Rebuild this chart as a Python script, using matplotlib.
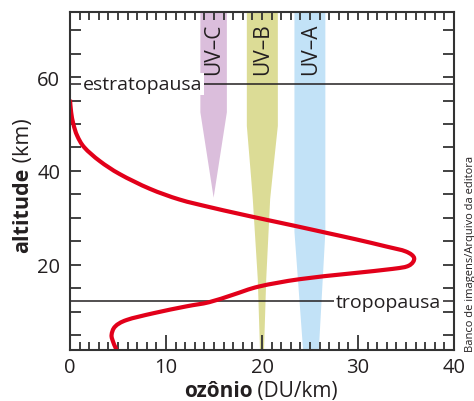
import matplotlib
matplotlib.use("Agg")
import matplotlib.pyplot as plt
from matplotlib.ticker import MultipleLocator
from matplotlib.patches import Polygon, PathPatch
from matplotlib.path import Path
import numpy as np

# Ozone concentration profile (DU/km) against altitude (km)
ozone_du = [0.0, 0.12, 0.35, 0.75, 1.5, 3.1, 5.2, 8.3, 11.4, 14.5, 17.5, 20.4,
            23.6, 26.7, 29.8, 32.9, 35.0, 35.85, 35.3, 33.6, 29.1, 23.9, 19.7,
            17.0, 14.5, 12.1, 8.7, 5.9, 4.7, 4.33, 4.5, 4.7, 4.9]
altitude_km = [55.2, 52.5, 50.0, 47.5, 45.0, 42.1, 39.3, 36.2, 33.9, 32.3, 30.9,
               29.6, 28.2, 26.8, 25.4, 23.9, 22.8, 21.4, 19.8, 19.1, 18.1, 16.9,
               15.35, 13.6, 12.0, 11.1, 9.65, 8.2, 6.8, 5.0, 3.5, 2.5, 1.6]

# Atmospheric boundaries (km)
boundary_names = ["estratopausa", "tropopausa"]
boundary_alt = [58.6, 12.2]
boundary_label_x = [1.35, 27.7]

# Penetration of UV bands: (altitude, left edge, right edge)
band_names = ["UV\u2013C", "UV\u2013B", "UV\u2013A"]
band_colors = ["#dbbedc", "#dcdc96", "#c2e2f7"]
uvc_alt = [74.0, 52.5, 34.3]
uvc_left = [13.58, 13.58, 14.96]
uvc_right = [16.34, 16.34, 14.96]
uvb_alt = [74.0, 49.6, 38.2, 34.0, 16.9, 1.8]
uvb_left = [18.42, 18.42, 18.88, 19.04, 19.56, 19.79]
uvb_right = [21.65, 21.65, 21.06, 20.85, 20.44, 20.21]
uva_alt = [74.0, 27.0, 1.8]
uva_left = [23.38, 23.38, 24.28]
uva_right = [26.6, 26.6, 25.92]

x_ticks = [0, 10, 20, 30, 40]
y_ticks = [20, 40, 60]

FONT = ["Open Sans", "DejaVu Sans"]
INK = "#231f20"
plt.rcParams["font.family"] = FONT


def smooth_path(xs, ys, ax):
    """Cubic Bezier path through the given points (Catmull-Rom tangents),
    built in display space so the curve bends evenly on screen."""
    P = ax.transData.transform(np.column_stack([xs, ys]))
    n = len(P)
    verts = [P[0]]
    codes = [Path.MOVETO]
    for i in range(n - 1):
        p0 = P[i - 1] if i > 0 else P[i]
        p1, p2 = P[i], P[i + 1]
        p3 = P[i + 2] if i + 2 < n else P[i + 1]
        c1 = p1 + (p2 - p0) / 6.0
        c2 = p2 - (p3 - p1) / 6.0
        verts += [c1, c2, p2]
        codes += [Path.CURVE4] * 3
    verts = ax.transData.inverted().transform(np.array(verts))
    return Path(verts, codes)


fig = plt.figure(figsize=(4.74, 4.02), dpi=100)
ax = fig.add_axes([70 / 474, 1 - 351 / 402, 384 / 474, 338 / 402])
ax.set_xlim(0, 40)
ax.set_ylim(1.8, 73.9)

# UV bands
bands = [(uvc_alt, uvc_left, uvc_right), (uvb_alt, uvb_left, uvb_right),
         (uva_alt, uva_left, uva_right)]
for (alts, lefts, rights), color, name in zip(bands, band_colors, band_names):
    pts = list(zip(lefts, alts)) + list(zip(rights[::-1], alts[::-1]))
    ax.add_patch(Polygon(pts, closed=True, facecolor=color, edgecolor="none", zorder=1))
    xc = (lefts[0] + rights[0]) / 2
    ax.text(xc + 0.05, 66.2, name, rotation=90, ha="center", va="center",
            fontsize=15, color=INK, zorder=3)

# Boundary lines with labels sitting on them
for name, alt, lx in zip(boundary_names, boundary_alt, boundary_label_x):
    ax.axhline(alt, color=INK, lw=1.1, zorder=2)
    ax.annotate(name, xy=(lx, alt), xytext=(0, -3.8), textcoords="offset points",
                ha="left", va="baseline", fontsize=14, color=INK, zorder=4,
                bbox=dict(boxstyle="square,pad=0.1", facecolor="white",
                          edgecolor="none"))

# Ozone profile
ax.add_patch(PathPatch(smooth_path(ozone_du, altitude_km, ax), facecolor="none",
                       edgecolor="#e2001a", lw=3.0, capstyle="butt",
                       joinstyle="round", zorder=5))

# Spines and ticks
for s in ax.spines.values():
    s.set_linewidth(1.5)
    s.set_color("#333333")
    s.set_zorder(6)

ax.set_xticks(x_ticks)
ax.xaxis.set_minor_locator(MultipleLocator(1))
ax.set_yticks(y_ticks)
ax.yaxis.set_minor_locator(MultipleLocator(5))
ax.tick_params(axis="x", which="major", direction="in", length=10.5, width=1.3,
               top=True, bottom=True, labelsize=14.5, pad=5, colors="#333333",
               labelcolor=INK)
ax.tick_params(axis="x", which="minor", direction="in", length=5.5, width=1.3,
               top=True, bottom=True, colors="#333333")
ax.tick_params(axis="y", which="both", direction="in", length=8, width=1.3,
               left=True, right=True, labelsize=14.5, pad=7, colors="#333333",
               labelcolor=INK)
for t in ax.xaxis.get_major_ticks():
    t.tick2line.set_markersize(5.5)

# Axis titles: bold word followed by regular unit
fig.canvas.draw()
r = fig.canvas.get_renderer()
W, H = 474.0, 402.0

xb = fig.text(0, 1 - 397.5 / H, "ozônio", fontsize=15, fontweight="bold",
              color=INK, ha="left", va="baseline")
xr = fig.text(0, 1 - 397.5 / H, " (DU/km)", fontsize=15, color=INK,
              ha="left", va="baseline")
wb = xb.get_window_extent(r).width
wr = xr.get_window_extent(r).width
x0 = 261 - (wb + wr) / 2
xb.set_x(x0 / W)
xr.set_x((x0 + wb) / W)

yb = fig.text(23 / W, 0, "altitude", fontsize=15.5, fontweight="bold",
              color=INK, rotation=90, ha="center", va="bottom")
yr = fig.text(23 / W, 0, " (km)", fontsize=15.5, color=INK, rotation=90,
              ha="center", va="bottom")
hb = yb.get_window_extent(r).height
hr = yr.get_window_extent(r).height
y0 = (H - 186) - (hb + hr) / 2
yb.set_y(y0 / H)
yr.set_y((y0 + hb) / H)

fig.text(475.5 / W, 1 - 352 / H, "Banco de imagens/Arquivo da editora",
         rotation=90, ha="right", va="bottom", fontsize=8, color=INK)

fig.savefig("out.png", dpi=100)
